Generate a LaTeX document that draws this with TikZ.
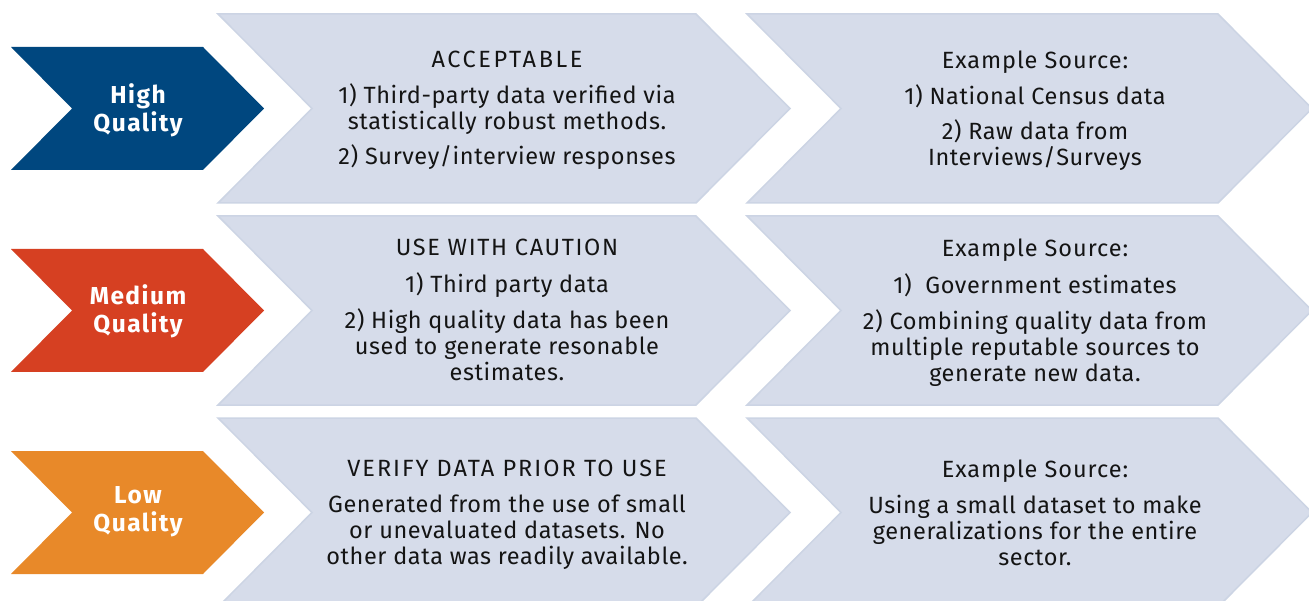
\documentclass[tikz,border=0pt]{standalone}
\usepackage{fontspec}
\setmainfont{Fira Sans}
\definecolor{hiblue}{RGB}{0,71,127}
\definecolor{medred}{RGB}{214,64,34}
\definecolor{loworange}{RGB}{232,137,41}
\definecolor{greyfill}{RGB}{214,220,234}
\definecolor{greyedge}{RGB}{204,212,228}
\definecolor{txtcol}{RGB}{20,20,20}
\newcommand{\hd}[2]{{\addfontfeature{LetterSpace=#1}#2}}
\tikzset{
  greychev/.style={fill=greyfill, draw=greyedge, line width=1.5pt, line join=miter},
  txt/.style={font=\fontsize{23.5}{26}\selectfont\addfontfeature{LetterSpace=2.5}, align=center, inner sep=0pt, text=txtcol, anchor=north},
  lab/.style={font=\fontsize{24.5}{28}\selectfont\bfseries\addfontfeature{LetterSpace=6}, align=center, inner sep=0pt, text=white, anchor=north}
}
\begin{document}
\begin{tikzpicture}[x=1pt,y=-1pt]
\useasboundingbox (0,0) rectangle (1309,601);
\clip (0,0) rectangle (1309,601);
\fill[white] (0,0) rectangle (1309,601);
% rows
\foreach \dy/\col in {0/hiblue,202/medred,404/loworange}{
  \begin{scope}[yshift=-\dy pt]
    % grey chevrons
    \draw[greychev] (218,14) -- (696,14) -- (790,108.5) -- (696,203) -- (218,203) -- (312,108.5) -- cycle;
    \draw[greychev] (747,14) -- (1218,14) -- (1312,108.5) -- (1218,203) -- (747,203) -- (841,108.5) -- cycle;
    % coloured chevron
    \fill[\col] (11,47) -- (203,47) -- (264,108.5) -- (203,170) -- (11,170) -- (72,108.5) -- cycle;
  \end{scope}
}
% left labels
\node[lab] (hq) at (138,83.5) {High\\Quality};
\node[lab] (mq) at (138,284.5) {Medium\\Quality};
\node[lab] (lq) at (138,486.5) {Low\\Quality};
% row 1
\node[txt] (m1) at (507,50.8) {\hd{11}{ACCEPTABLE}\\[10pt]1) Third-party data verified via\\statistically robust methods.\\[9pt]2) Survey/interview responses};
\node[txt] (r1) at (1035,50.6) {\hd{4}{Example Source:}\\[10pt]1) National Census data\\[9pt]2) Raw data from\\Interviews/Surveys};
% row 2
\node[txt] (m2) at (507,239.3) {\hd{7}{USE WITH CAUTION}\\[11pt]1) Third party data\\[10pt]2) High quality data has been\\used to generate resonable\\estimates.};
\node[txt] (r2) at (1035,239) {\hd{4}{Example Source:}\\[11pt]1)\ \ Government estimates\\[10pt]2) Combining quality data from\\multiple reputable sources to\\generate new data.};
% row 3
\node[txt] (m3) at (507,459.8) {\hd{8.5}{VERIFY DATA PRIOR TO USE}\\[10pt]Generated from the use of small\\or unevaluated datasets. No\\other data was readily available.};
\node[txt] (r3) at (1035,459.6) {\hd{4}{Example Source:}\\[10pt]Using a small dataset to make\\generalizations for the entire\\sector.};
\end{tikzpicture}
\end{document}
